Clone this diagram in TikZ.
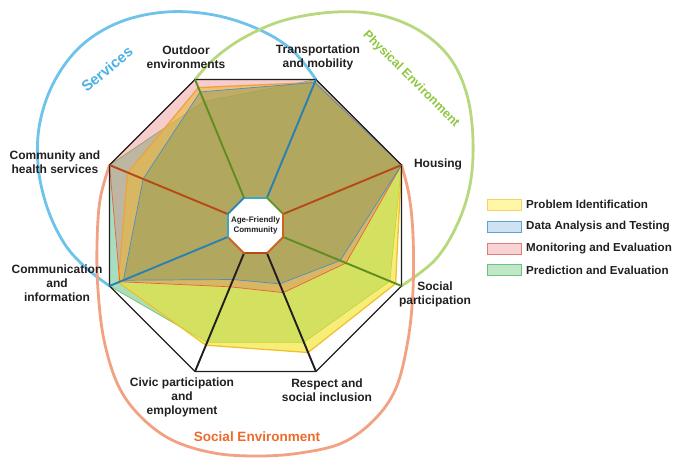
\documentclass[tikz,border=0pt]{standalone}
\usepackage{fontspec}
\setmainfont{Liberation Sans}
\usetikzlibrary{calc}
\definecolor{txt}{HTML}{231F20}
\definecolor{servblue}{HTML}{6EC3EA}
\definecolor{physgreen}{HTML}{B8D87E}
\definecolor{socsalmon}{HTML}{F2A283}
\definecolor{servtext}{HTML}{4DB2E3}
\definecolor{phystext}{HTML}{8DC63F}
\definecolor{soctext}{HTML}{EE6A2A}
\definecolor{spgreen}{HTML}{5E8E1E}
\definecolor{spblue}{HTML}{2A80B2}
\definecolor{sporange}{HTML}{B54A14}
\definecolor{inteal}{HTML}{3EA6BE}
\definecolor{inorange}{HTML}{CC6420}
\definecolor{fillY}{rgb}{0.94,0.89,0.15}
\definecolor{fillB}{rgb}{0.475,0.56,0.36}
\definecolor{fillP}{rgb}{0.90,0.41,0.41}
\definecolor{fillG}{rgb}{0.32,0.74,0.50}
\definecolor{lineY}{HTML}{F2C12E}
\definecolor{lineB}{HTML}{4A8FC4}
\definecolor{lineP}{HTML}{E8603C}
\definecolor{lineG}{HTML}{7CC05A}
\definecolor{legY}{HTML}{FFF7A6}
\definecolor{legYb}{HTML}{F0D46A}
\definecolor{legB}{HTML}{CFE2F3}
\definecolor{legBb}{HTML}{5BA3D0}
\definecolor{legP}{HTML}{F9D3D3}
\definecolor{legPb}{HTML}{E07A7A}
\definecolor{legG}{HTML}{C0E8C8}
\definecolor{legGb}{HTML}{6CC080}
\newcommand\Rad{158}
\newcommand\radarpoly[8]{($(C)+(-112.5:#1*\Rad)$) -- ($(C)+(-67.5:#2*\Rad)$) -- ($(C)+(-22.5:#3*\Rad)$) -- ($(C)+(22.5:#4*\Rad)$) -- ($(C)+(67.5:#5*\Rad)$) -- ($(C)+(112.5:#6*\Rad)$) -- ($(C)+(157.5:#7*\Rad)$) -- ($(C)+(202.5:#8*\Rad)$) -- cycle}
\begin{document}
\begin{tikzpicture}[x=1pt,y=-1pt,
  lab/.style={text=txt,align=center,font=\bfseries\fontsize{12}{14}\selectfont,inner sep=0pt},
  arc/.style={line width=2.8pt,line cap=round},
  spoke/.style={line width=1.9pt},
  inedge/.style={line width=1.9pt,line cap=round},
  legbox/.style={minimum width=34pt,minimum height=11pt,inner sep=0pt,line width=0.9pt},
  legtext/.style={text=txt,anchor=west,inner sep=0pt,font=\bfseries\fontsize{11.6}{13}\selectfont},
  serY/.style={fill=fillY,fill opacity=0.62,draw=lineY,line width=1.3pt,line join=round},
  serB/.style={fill=fillB,fill opacity=0.4,draw=lineB,line width=0.7pt,line join=round},
  serP/.style={fill=fillP,fill opacity=0.34,draw=lineP,line width=0.7pt,line join=round},
  serG/.style={fill=fillG,fill opacity=0.5,draw=lineG,line width=0.7pt,line join=round}]
\useasboundingbox (0,0) rectangle (675,459);
\coordinate (C) at (255.5,225.5);
\foreach \a [count=\i] in {-112.5,-67.5,-22.5,22.5,67.5,112.5,157.5,202.5} {
  \coordinate (o\i) at ($(C)+(\a:\Rad)$);
  \coordinate (i\i) at ($(C)+(\a:30)$);
}
% domain arcs
\draw[arc,servblue] plot[smooth,tension=0.6] coordinates {(o2) (292,50) (258,29) (214,15) (166,12) (120,22) (82,45) (55,80) (40,122) (38,165) (47,207) (64,243) (85,267) (o7)};
\draw[arc,physgreen] plot[smooth,tension=0.6] coordinates {(o1) (215,58) (245,37) (285,20) (335,12) (380,15) (420,31) (450,58) (467,95) (473,140) (470,185) (457,225) (435,260) (o4)};
\draw[arc,socsalmon] plot[smooth,tension=0.6] coordinates {(o8) (100,200) (97,245) (98,290) (104,340) (118,385) (140,416) (172,440) (214,453) (258,456) (300,453) (342,443) (374,420) (396,388) (408,340) (413,290) (413,235) (409,195) (o3)};
% series
\filldraw[serG] \radarpoly{0.85}{1.0}{1.0}{0.92}{0.80}{0.80}{1.0}{1.0};
\filldraw[serY] \radarpoly{0.945}{0.98}{1.0}{0.96}{0.87}{0.82}{0.94}{0.875};
\filldraw[serP] \radarpoly{1.0}{1.0}{1.0}{0.62}{0.46}{0.42}{0.93}{1.0};
\filldraw[serB] \radarpoly{0.915}{0.98}{1.0}{0.58}{0.40}{0.37}{0.905}{0.77};
% outer octagon
\draw[txt,line width=1.3pt,line join=round] (o1) -- (o2) -- (o3) -- (o4) -- (o5) -- (o6) -- (o7) -- (o8) -- cycle;
% spokes
\draw[spoke,spgreen] (i1) -- (o1);
\draw[spoke,spblue] (i2) -- (o2);
\draw[spoke,sporange] (i3) -- (o3);
\draw[spoke,spgreen] (i4) -- (o4);
\draw[spoke,txt] (i5) -- (o5);
\draw[spoke,txt] (i6) -- (o6);
\draw[spoke,spblue] (i7) -- (o7);
\draw[spoke,sporange] (i8) -- (o8);
% inner octagon
\fill[white] (i1) -- (i2) -- (i3) -- (i4) -- (i5) -- (i6) -- (i7) -- (i8) -- cycle;
\draw[inedge,inteal] (i1) -- (i2);
\draw[inedge,spgreen!80!lineG] (i2) -- (i3);
\draw[inedge,inorange] (i3) -- (i4);
\draw[inedge,inorange] (i4) -- (i5);
\draw[inedge,sporange] (i5) -- (i6);
\draw[inedge,inorange] (i6) -- (i7);
\draw[inedge,inteal] (i7) -- (i8);
\draw[inedge,spblue!80!inteal] (i8) -- (i1);
\node[text=txt,align=center,inner sep=0pt,font=\bfseries\fontsize{8}{9.8}\selectfont] (afc) at (C) {Age-Friendly\\Community};
% labels
\node[lab] (lout) at (186,57) {Outdoor\\environments};
\node[lab] (ltra) at (318,57) {Transportation\\and mobility};
\node[lab] (lhou) at (438,164) {Housing};
\node[lab] (lsoc) at (435,294) {Social\\participation};
\node[lab] (lres) at (327,390) {Respect and\\social inclusion};
\node[lab] (lciv) at (182,397) {Civic participation\\and\\employment};
\node[lab] (lcom) at (57,283) {Communication\\and\\information};
\node[lab] (lhea) at (55,162) {Community and\\health services};
% domain titles
\node[text=servtext,rotate=40,inner sep=0pt,font=\bfseries\fontsize{15}{15}\selectfont] (tserv) at (107,69) {Services};
\node[text=phystext,rotate=-45,inner sep=0pt,font=\bfseries\fontsize{12.5}{12.5}\selectfont] (tphys) at (411,79) {Physical Environment};
\node[text=soctext,inner sep=0pt,font=\bfseries\fontsize{13.5}{13.5}\selectfont] (tsoc) at (257,437) {Social Environment};
% legend
\node[legbox,fill=legY,draw=legYb] (lb1) at (504,204.5) {};
\node[legbox,fill=legB,draw=legBb] (lb2) at (504,226.5) {};
\node[legbox,fill=legP,draw=legPb] (lb3) at (504,248.5) {};
\node[legbox,fill=legG,draw=legGb] (lb4) at (504,270) {};
\node[legtext] (lt1) at (526,204.5) {Problem Identification};
\node[legtext] (lt2) at (526,226.5) {Data Analysis and Testing};
\node[legtext] (lt3) at (526,248.5) {Monitoring and Evaluation};
\node[legtext] (lt4) at (526,270) {Prediction and Evaluation};
\end{tikzpicture}
\end{document}
